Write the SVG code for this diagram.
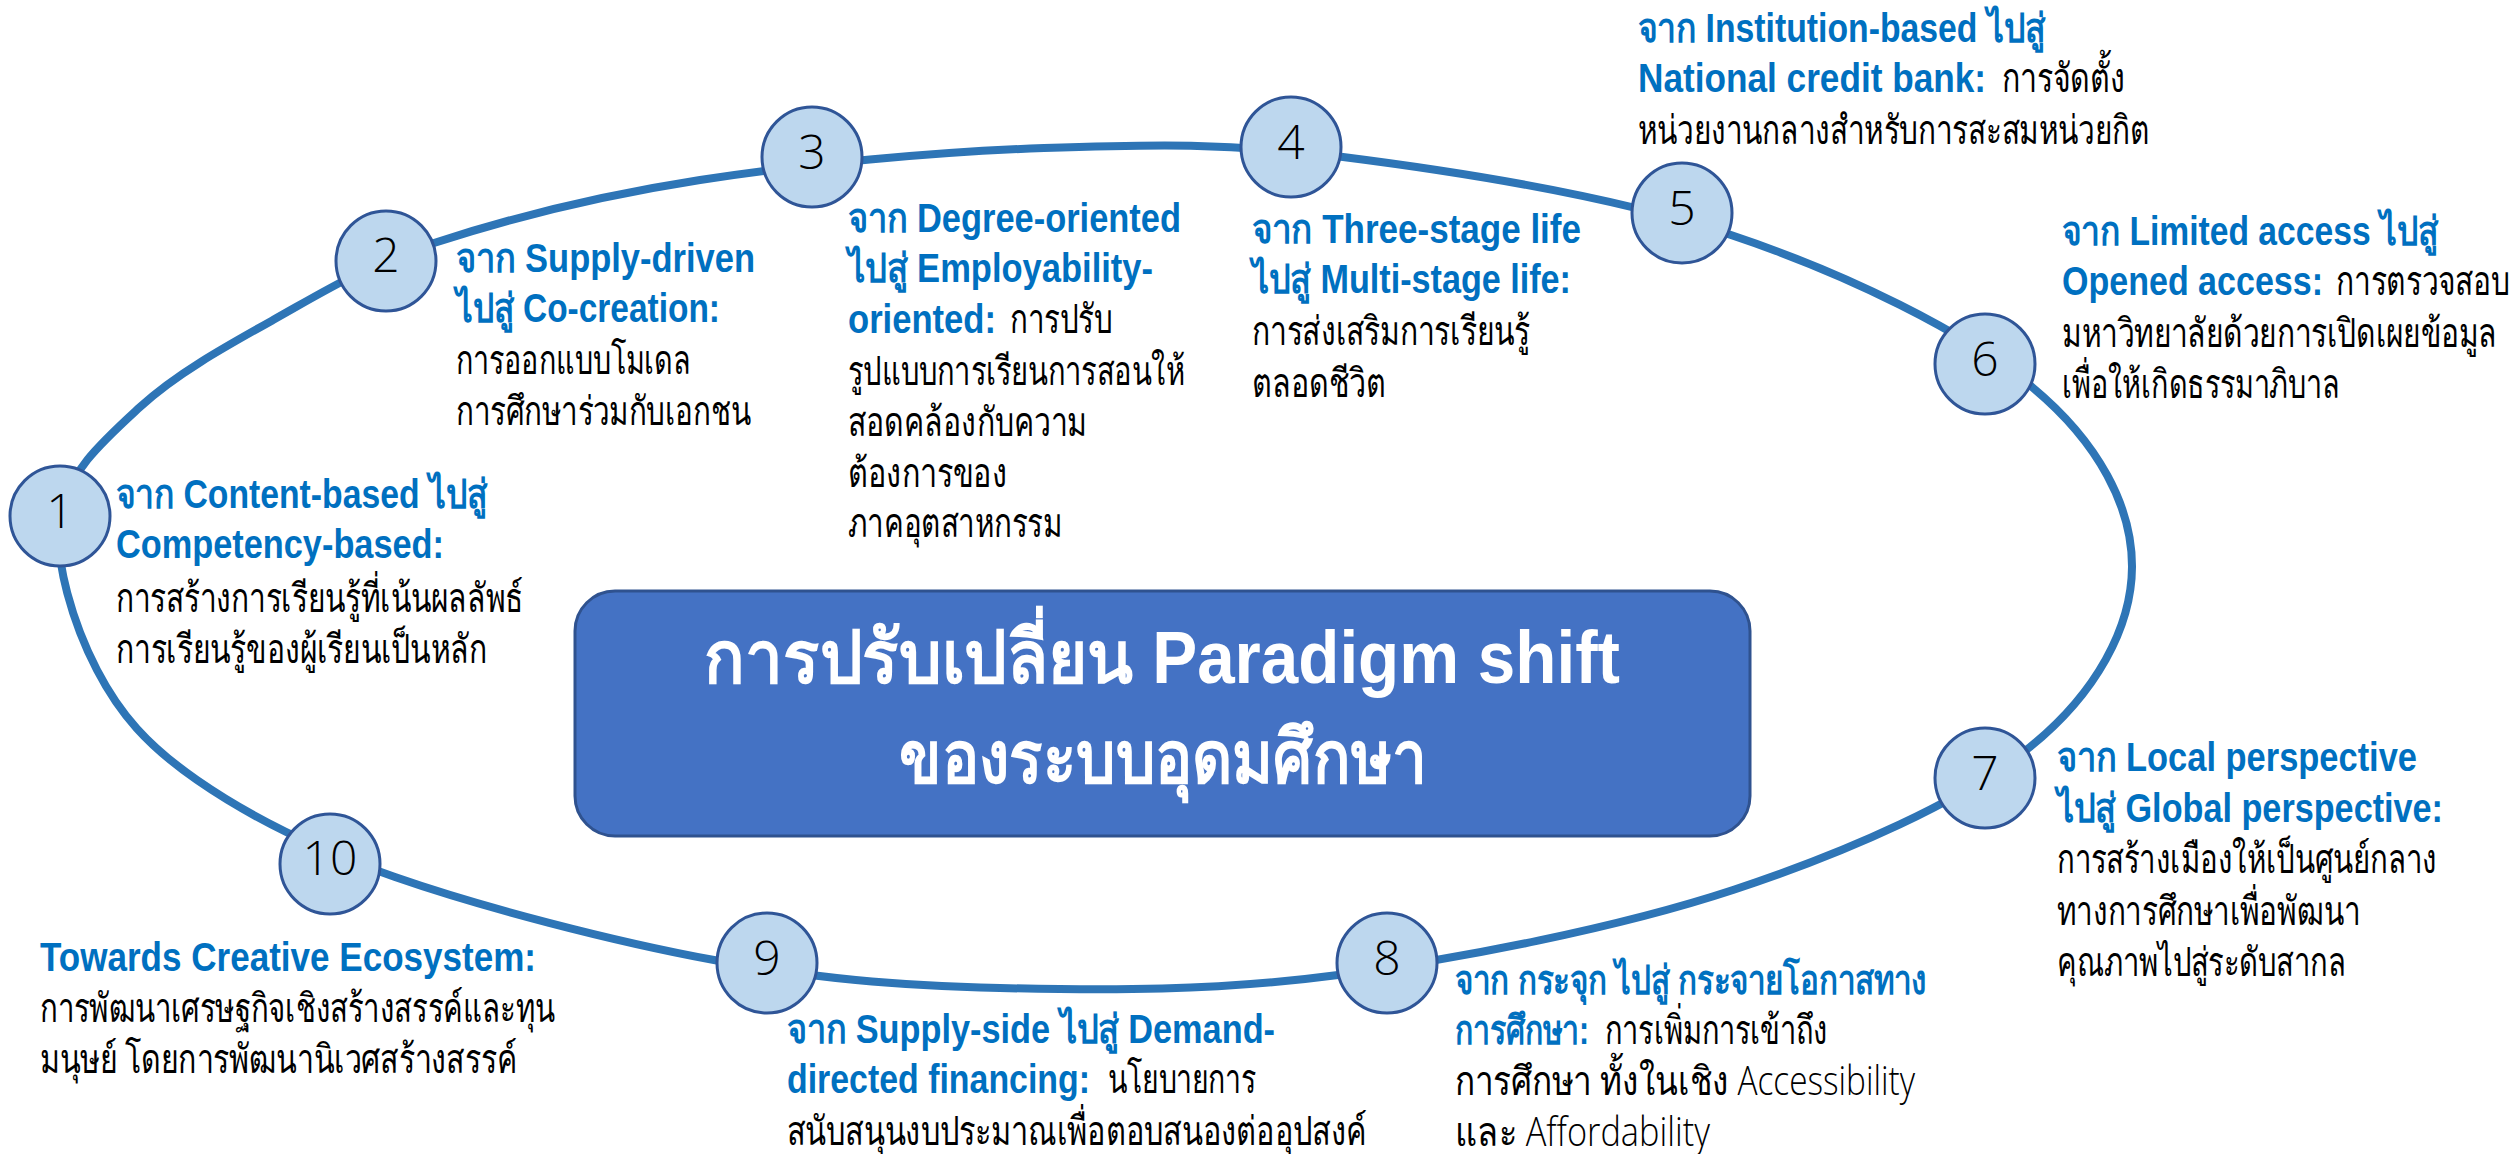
<svg xmlns="http://www.w3.org/2000/svg" width="2514" height="1154" viewBox="0 0 2514 1154">
<style>
.ring{fill:none;stroke:#2E75B6;stroke-width:8}
.nc{fill:#BDD7EE;stroke:#2F5597;stroke-width:3}
.num{font-family:"Open Sans","Liberation Sans",sans-serif;font-weight:300;font-size:48px;fill:#000;text-anchor:middle}
.h{font-family:"Liberation Sans","Noto Sans",sans-serif;font-weight:bold;font-size:40px;fill:#0070C0}
.b{font-family:"Open Sans","Noto Sans","Liberation Sans",sans-serif;font-weight:300;font-size:40px;fill:#000}
.box{fill:#4472C4;stroke:#2F528F;stroke-width:3}
.t{font-family:"Liberation Sans","Noto Sans",sans-serif;font-weight:bold;font-size:74px;fill:#fff;text-anchor:middle}
</style>
<rect width="2514" height="1154" fill="#fff"/>
<g id="connectors">
<path class="ring" d="M60,516 C67.2,472.2 104.5,439.7 140,407 C175.5,374.3 224,347.3 273,320 C322,292.7 362.8,266.3 434,243 C505.2,219.7 598.3,195.8 700,180 C801.7,164.2 936.8,151.8 1044,148 C1151.2,144.2 1228.5,142.5 1343,157 C1457.5,171.5 1616.2,196.7 1731,235 C1845.8,273.3 1965.2,331.7 2032,387 C2098.8,442.3 2132.3,507 2132,567 C2131.7,627 2096.5,693.2 2030,747 C1963.5,800.8 1848.3,852 1733,890 C1617.7,928 1460.2,958.7 1338,975 C1215.8,991.3 1104,990.5 1000,988 C896,985.5 814.8,978.5 714,960 C613.2,941.5 481.2,907 395,877 C308.8,847 246.7,814.5 197,780 C147.3,745.5 119.8,714 97,670 C74.2,626 52.8,559.8 60,516 Z"/>
</g>
<g id="center">
<rect class="box" x="575" y="591" width="1175" height="245" rx="40" ry="40"/>
<text class="t" x="1162" y="683" textLength="916" lengthAdjust="spacingAndGlyphs">การปรับเปลี่ยน Paradigm shift</text>
<text class="t" x="1163" y="783" textLength="528" lengthAdjust="spacingAndGlyphs">ของระบบอุดมศึกษา</text>
</g>
<g id="node1">
<circle class="nc" cx="60" cy="516" r="50"/>
<text class="num" x="60" y="528">1</text>
<text class="h" x="116" y="508" textLength="371" lengthAdjust="spacingAndGlyphs">จาก Content-based ไปสู่</text>
<text class="h" x="116" y="558" textLength="328" lengthAdjust="spacingAndGlyphs">Competency-based:</text>
<text class="b" x="116" y="612" textLength="407" lengthAdjust="spacingAndGlyphs">การสร้างการเรียนรู้ที่เน้นผลลัพธ์</text>
<text class="b" x="116" y="663" textLength="371" lengthAdjust="spacingAndGlyphs">การเรียนรู้ของผู้เรียนเป็นหลัก</text>
</g>
<g id="node2">
<circle class="nc" cx="386" cy="261" r="50"/>
<text class="num" x="386" y="272">2</text>
<text class="h" x="456" y="272" textLength="299" lengthAdjust="spacingAndGlyphs">จาก Supply-driven</text>
<text class="h" x="456" y="322" textLength="264" lengthAdjust="spacingAndGlyphs">ไปสู่ Co-creation:</text>
<text class="b" x="456" y="374" textLength="235" lengthAdjust="spacingAndGlyphs">การออกแบบโมเดล</text>
<text class="b" x="456" y="425" textLength="295" lengthAdjust="spacingAndGlyphs">การศึกษาร่วมกับเอกชน</text>
</g>
<g id="node3">
<circle class="nc" cx="812" cy="157" r="50"/>
<text class="num" x="812" y="169">3</text>
<text class="h" x="848" y="232" textLength="333" lengthAdjust="spacingAndGlyphs">จาก Degree-oriented</text>
<text class="h" x="848" y="282" textLength="305" lengthAdjust="spacingAndGlyphs">ไปสู่ Employability-</text>
<text class="h" x="848" y="333" textLength="148" lengthAdjust="spacingAndGlyphs">oriented:</text>
<text class="b" x="1010" y="333" textLength="102" lengthAdjust="spacingAndGlyphs">การปรับ</text>
<text class="b" x="848" y="385" textLength="337" lengthAdjust="spacingAndGlyphs">รูปแบบการเรียนการสอนให้</text>
<text class="b" x="848" y="436" textLength="239" lengthAdjust="spacingAndGlyphs">สอดคล้องกับความ</text>
<text class="b" x="848" y="487" textLength="159" lengthAdjust="spacingAndGlyphs">ต้องการของ</text>
<text class="b" x="848" y="537" textLength="214" lengthAdjust="spacingAndGlyphs">ภาคอุตสาหกรรม</text>
</g>
<g id="node4">
<circle class="nc" cx="1291" cy="147" r="50"/>
<text class="num" x="1291" y="159">4</text>
<text class="h" x="1252" y="243" textLength="329" lengthAdjust="spacingAndGlyphs">จาก Three-stage life</text>
<text class="h" x="1252" y="293" textLength="319" lengthAdjust="spacingAndGlyphs">ไปสู่ Multi-stage life:</text>
<text class="b" x="1252" y="345" textLength="278" lengthAdjust="spacingAndGlyphs">การส่งเสริมการเรียนรู้</text>
<text class="b" x="1252" y="397" textLength="134" lengthAdjust="spacingAndGlyphs">ตลอดชีวิต</text>
</g>
<g id="node5">
<circle class="nc" cx="1682" cy="213" r="50"/>
<text class="num" x="1682" y="225">5</text>
<text class="h" x="1638" y="42" textLength="407" lengthAdjust="spacingAndGlyphs">จาก Institution-based ไปสู่</text>
<text class="h" x="1638" y="92" textLength="348" lengthAdjust="spacingAndGlyphs">National credit bank:</text>
<text class="b" x="2002" y="92" textLength="123" lengthAdjust="spacingAndGlyphs">การจัดตั้ง</text>
<text class="b" x="1638" y="144" textLength="511" lengthAdjust="spacingAndGlyphs">หน่วยงานกลางสำหรับการสะสมหน่วยกิต</text>
</g>
<g id="node6">
<circle class="nc" cx="1985" cy="364" r="50"/>
<text class="num" x="1985" y="376">6</text>
<text class="h" x="2062" y="245" textLength="376" lengthAdjust="spacingAndGlyphs">จาก Limited access ไปสู่</text>
<text class="h" x="2062" y="295" textLength="261" lengthAdjust="spacingAndGlyphs">Opened access:</text>
<text class="b" x="2336" y="295" textLength="174" lengthAdjust="spacingAndGlyphs">การตรวจสอบ</text>
<text class="b" x="2062" y="347" textLength="435" lengthAdjust="spacingAndGlyphs">มหาวิทยาลัยด้วยการเปิดเผยข้อมูล</text>
<text class="b" x="2062" y="398" textLength="278" lengthAdjust="spacingAndGlyphs">เพื่อให้เกิดธรรมาภิบาล</text>
</g>
<g id="node7">
<circle class="nc" cx="1985" cy="778" r="50"/>
<text class="num" x="1985" y="790">7</text>
<text class="h" x="2057" y="771" textLength="360" lengthAdjust="spacingAndGlyphs">จาก Local perspective</text>
<text class="h" x="2057" y="822" textLength="386" lengthAdjust="spacingAndGlyphs">ไปสู่ Global perspective:</text>
<text class="b" x="2057" y="873" textLength="380" lengthAdjust="spacingAndGlyphs">การสร้างเมืองให้เป็นศูนย์กลาง</text>
<text class="b" x="2057" y="925" textLength="303" lengthAdjust="spacingAndGlyphs">ทางการศึกษาเพื่อพัฒนา</text>
<text class="b" x="2057" y="976" textLength="289" lengthAdjust="spacingAndGlyphs">คุณภาพไปสู่ระดับสากล</text>
</g>
<g id="node8">
<circle class="nc" cx="1387" cy="963" r="50"/>
<text class="num" x="1387" y="975">8</text>
<text class="h" x="1455" y="994" textLength="472" lengthAdjust="spacingAndGlyphs">จาก กระจุก ไปสู่ กระจายโอกาสทาง</text>
<text class="h" x="1455" y="1044" textLength="134" lengthAdjust="spacingAndGlyphs">การศึกษา:</text>
<text class="b" x="1605" y="1044" textLength="223" lengthAdjust="spacingAndGlyphs">การเพิ่มการเข้าถึง</text>
<text class="b" x="1455" y="1095" textLength="460" lengthAdjust="spacingAndGlyphs">การศึกษา ทั้งในเชิง Accessibility</text>
<text class="b" x="1455" y="1146" textLength="255" lengthAdjust="spacingAndGlyphs">และ Affordability</text>
</g>
<g id="node9">
<circle class="nc" cx="767" cy="963" r="50"/>
<text class="num" x="767" y="975">9</text>
<text class="h" x="787" y="1043" textLength="488" lengthAdjust="spacingAndGlyphs">จาก Supply-side ไปสู่ Demand-</text>
<text class="h" x="787" y="1093" textLength="303" lengthAdjust="spacingAndGlyphs">directed financing:</text>
<text class="b" x="1108" y="1093" textLength="148" lengthAdjust="spacingAndGlyphs">นโยบายการ</text>
<text class="b" x="787" y="1145" textLength="580" lengthAdjust="spacingAndGlyphs">สนับสนุนงบประมาณเพื่อตอบสนองต่ออุปสงค์</text>
</g>
<g id="node10">
<circle class="nc" cx="330" cy="864" r="50"/>
<text class="num" x="330" y="875">10</text>
<text class="h" x="40" y="971" textLength="496" lengthAdjust="spacingAndGlyphs">Towards Creative Ecosystem:</text>
<text class="b" x="40" y="1022" textLength="515" lengthAdjust="spacingAndGlyphs">การพัฒนาเศรษฐกิจเชิงสร้างสรรค์และทุน</text>
<text class="b" x="40" y="1073" textLength="477" lengthAdjust="spacingAndGlyphs">มนุษย์ โดยการพัฒนานิเวศสร้างสรรค์</text>
</g>
</svg>
